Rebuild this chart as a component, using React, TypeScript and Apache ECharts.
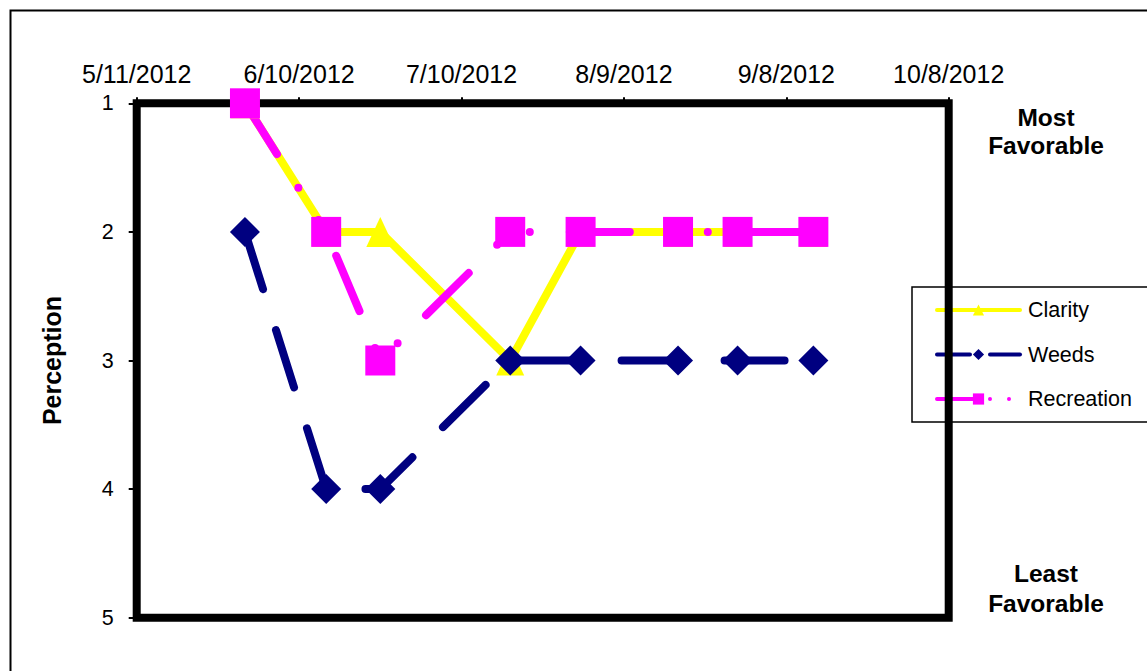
import React, { useEffect, useRef } from "react";
import * as echarts from "echarts";

const dates = ["5/31/2012", "6/15/2012", "6/25/2012", "7/19/2012", "8/1/2012", "8/19/2012", "8/30/2012", "9/13/2012"];
const clarity = [1, 2, 2, 3, 2, 2, 2, 2];
const weeds = [2, 4, 4, 3, 3, 3, 3, 3];
const recreation = [1, 2, 3, 2, 2, 2, 2, 2];
const seriesNames = ["Clarity", "Weeds", "Recreation"];
const startDate = "5/11/2012";
const tickStepDays = 30;
const spanDays = 150;
const yTicks = [1, 2, 3, 4, 5];

const DAY = 86400000;
function parseDate(s: string): number {
  const [m, d, y] = s.split("/").map(Number);
  return Date.UTC(y, m - 1, d);
}
const t0 = parseDate(startDate);
function dayOffset(s: string): number {
  return Math.round((parseDate(s) - t0) / DAY);
}
function fmt(off: number): string {
  const dt = new Date(t0 + off * DAY);
  return `${dt.getUTCMonth() + 1}/${dt.getUTCDate()}/${dt.getUTCFullYear()}`;
}

const FONT = 'Arial, "Liberation Sans", sans-serif';

export default function App() {
  const ref = useRef<HTMLDivElement>(null);
  useEffect(() => {
    if (!ref.current) return;
    const chart = echarts.init(ref.current, null, { renderer: "svg" });
    const pts = (vals: number[]) => dates.map((d, i) => [dayOffset(d), vals[i]]);
    chart.setOption({
      animation: false,
      backgroundColor: "#fff",
      grid: {
        left: 136.7,
        right: 198.3,
        top: 103.3,
        bottom: 53.3,
        show: true,
        borderColor: "#000",
        borderWidth: 8,
        backgroundColor: "transparent",
        z: 3,
      },
      xAxis: {
        type: "value",
        position: "top",
        min: 0,
        max: spanDays,
        interval: tickStepDays,
        axisLine: { show: false },
        axisTick: { show: true, length: 6, lineStyle: { color: "#000", width: 2 } },
        splitLine: { show: false },
        axisLabel: {
          formatter: (v: number) => fmt(v),
          fontSize: 25,
          color: "#000",
          fontFamily: FONT,
          margin: 17,
        },
      },
      yAxis: {
        type: "value",
        inverse: true,
        min: yTicks[0],
        max: yTicks[yTicks.length - 1],
        interval: 1,
        name: "Perception",
        nameLocation: "middle",
        nameRotate: 90,
        nameGap: 72,
        nameTextStyle: { fontSize: 25, fontWeight: "bold", color: "#000", fontFamily: FONT },
        axisLine: { show: false },
        axisTick: { show: true, length: 8, lineStyle: { color: "#000", width: 2 } },
        splitLine: { show: false },
        axisLabel: { fontSize: 21.5, color: "#000", fontFamily: FONT, margin: 23 },
      },
      legend: {
        orient: "vertical",
        left: 912,
        top: 287,
        z: 1,
        padding: [12, 40, 12, 23],
        itemWidth: 83,
        itemHeight: 14,
        itemGap: 22.5,
        borderColor: "#000",
        borderWidth: 1.5,
        backgroundColor: "transparent",
        textStyle: { fontSize: 21.5, color: "#000", fontFamily: FONT, lineHeight: 22, padding: [0, 0, 0, 3] },
        data: [
          { name: seriesNames[0], lineStyle: { width: 4, type: "solid" } },
          { name: seriesNames[1], lineStyle: { width: 4, type: [33, 20] } },
          { name: seriesNames[2], lineStyle: { width: 4, type: [40, 13, 0, 19, 0, 40] } },
        ],
      },
      graphic: [
        {
          type: "rect",
          left: 8,
          top: 8,
          shape: { width: 1200, height: 700 },
          style: { fill: "none", stroke: "#000", lineWidth: 2 },
          silent: true,
          z: -1,
        },
        {
          type: "text",
          x: 1046,
          y: 131,
          style: {
            text: "Most\nFavorable",
            fontSize: 24.5,
            fontWeight: "bold",
            fontFamily: FONT,
            fill: "#000",
            align: "center",
            verticalAlign: "middle",
            lineHeight: 28,
          },
        },
        {
          type: "text",
          x: 1046,
          y: 588.5,
          style: {
            text: "Least\nFavorable",
            fontSize: 24.5,
            fontWeight: "bold",
            fontFamily: FONT,
            fill: "#000",
            align: "center",
            verticalAlign: "middle",
            lineHeight: 30,
          },
        },
      ],
      series: [
        {
          name: seriesNames[0],
          type: "line",
          data: pts(clarity),
          z: 5,
          clip: false,
          symbol: "triangle",
          symbolSize: [28, 30],
          itemStyle: { color: "#FFFF00" },
          lineStyle: { color: "#FFFF00", width: 8, cap: "round", join: "round" },
        },
        {
          name: seriesNames[1],
          type: "line",
          data: pts(weeds),
          z: 5,
          clip: false,
          symbol: "diamond",
          symbolSize: 30,
          itemStyle: { color: "#000080" },
          lineStyle: { color: "#000080", width: 8, type: [60, 43], cap: "round", join: "round" },
        },
        {
          name: seriesNames[2],
          type: "line",
          data: pts(recreation),
          z: 5,
          clip: false,
          symbol: "rect",
          symbolSize: 30,
          itemStyle: { color: "#FF00FF" },
          lineStyle: { color: "#FF00FF", width: 8, type: [60, 40, 0, 38, 0, 40], cap: "round", join: "round" },
        },
      ],
    });
    return () => chart.dispose();
  }, []);
  return (
    <div
      ref={ref}
      style={{ position: "fixed", left: 0, top: 0, width: 1147, height: 671 }}
    />
  );
}
